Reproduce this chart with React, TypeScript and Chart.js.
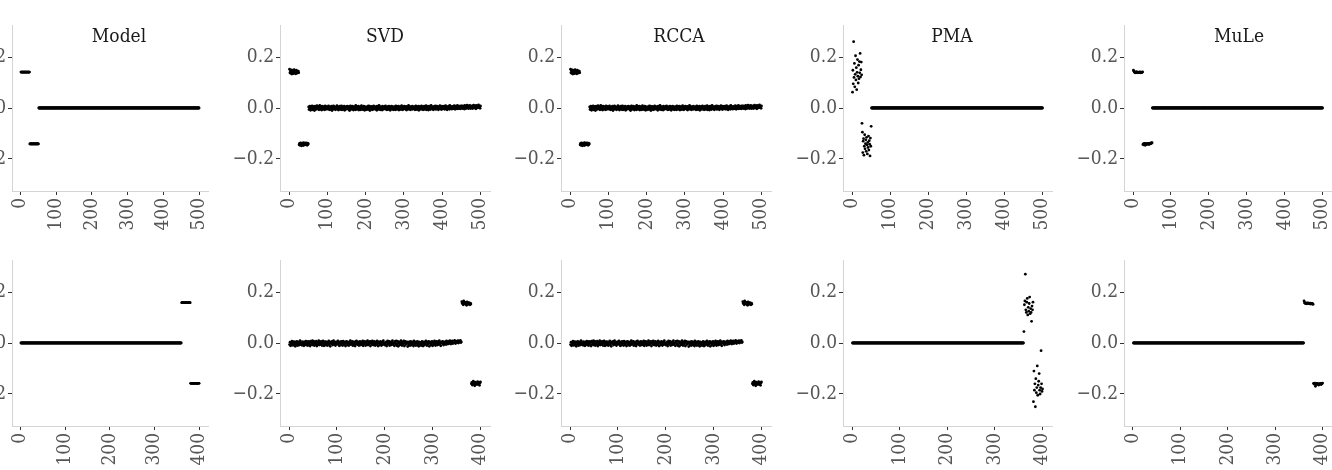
import React, { useEffect, useRef } from "react";
import { Chart, registerables } from "chart.js";

Chart.register(...registerables);

// ---------- DATA ----------
const panelTitles = ["Model", "SVD", "RCCA", "PMA", "MuLe"];
const xTicksTop = [0, 100, 200, 300, 400, 500];
const xTicksBottom = [0, 100, 200, 300, 400];
const yTicks = [-0.2, 0, 0.2];

// sparse loadings that sit exactly on zero (solid black runs in the picture)
const zeroRunTop = new Array(450).fill(0);
const zeroRunBottom = new Array(360).fill(0);

// Model, top row (indices 1..50 non-zero)
const modelTopHigh = [0.141, 0.141, 0.141, 0.141, 0.141, 0.141, 0.141, 0.141, 0.141, 0.141, 0.141, 0.141, 0.141, 0.141, 0.141, 0.141, 0.141, 0.141, 0.141, 0.141, 0.141, 0.141, 0.141, 0.141, 0.141];
const modelTopLow = [-0.141, -0.141, -0.141, -0.141, -0.141, -0.141, -0.141, -0.141, -0.141, -0.141, -0.141, -0.141, -0.141, -0.141, -0.141, -0.141, -0.141, -0.141, -0.141, -0.141, -0.141, -0.141, -0.141, -0.141, -0.141];
// Model, bottom row (indices 361..400 non-zero)
const modelBottomHigh = [0.158, 0.158, 0.158, 0.158, 0.158, 0.158, 0.158, 0.158, 0.158, 0.158, 0.158, 0.158, 0.158, 0.158, 0.158, 0.158, 0.158, 0.158, 0.158, 0.158];
const modelBottomLow = [-0.158, -0.158, -0.158, -0.158, -0.158, -0.158, -0.158, -0.158, -0.158, -0.158, -0.158, -0.158, -0.158, -0.158, -0.158, -0.158, -0.158, -0.158, -0.158, -0.158];

// SVD / RCCA (identical in the picture), top row, in thousandths
const svdTopHigh = [152, 138, 145, 136, 141, 149, 133, 144, 139, 147, 135, 142, 150, 137, 143, 146, 134, 140, 148, 136, 144, 139, 142, 145, 138];
const svdTopLow = [-144, -139, -146, -141, -137, -143, -148, -140, -145, -138, -142, -147, -136, -143, -140, -145, -139, -142, -137, -144, -141, -146, -138, -143, -140];
const svdTopNoise = [
  4, -6, 2, 7, -2, -9, 5, 0, -4, 8, 2, -7, 3, -2, 6, -10, 1, 7, -4, 2, -5, 3, 9, -2, 0,
  -4, 5, -7, 2, 10, -2, -5, 3, 0, -8, 7, 1, -3, 5, -2, 4, -7, 0, 8, -5, 2, -4, 6, -1, 3,
  0, -5, 8, 3, -2, -7, 2, 5, -4, 1, 7, -10, 4, 2, -5, 8, -2, 0, 5, -3, -7, 3, 2, -2, 9,
  -5, 2, 4, -8, 0, 5, -3, 7, -2, -6, 3, 8, -7, 2, 0, -4, 5, -1, 7, -9, 3, 1, -5, 2, 6,
  -2, 7, -3, 0, 5, -7, 2, -10, 4, 8, -2, 1, -5, 3, 7, -4, 2, -8, 5, 0, -2, 4, -7, 10, -3,
  2, -5, 6, 0, -4, 7, -8, 3, 1, -2, 5, -7, 0, 9, -3, 2, -6, 4, -1, 7, 0, -9, 5, -3, 2,
  -7, 3, 0, 5, -2, -6, 8, 2, -4, 7, -10, 1, 3, -2, 6, 2, -7, 4, 0, -5, 8, -2, 3, -4, 1,
  5, -3, 2, -9, 7, 0, -2, 4, -5, 10, -3, 2, -7, 5, 0, -2, 3, -8, 7, 2, -5, 0, 4, -2, 6,
  -4, 8, -2, 1, -7, 3, 5, -6, 2, -1, 7, -3, 0, -9, 5, 2, -4, 7, -2, 0, 3, -7, 2, 5, -5,
  0, 4, -7, 8, -2, 2, -5, 6, 0, -4, 7, -8, 3, -2, 2, 5, -6, 1, 9, -3, 2, -7, 4, 0, -2,
  7, -2, 3, -5, 0, 6, -8, 2, 4, -3, 1, 10, -5, 2, -2, 4, -7, 5, 0, -4, 2, 7, -5, 3, -1,
  -2, 5, 0, -7, 3, 8, -4, 2, -6, 1, 5, -2, 7, -9, 3, 0, -4, 6, 2, -5, 8, -2, 1, 4, -7,
  3, -2, 7, -5, 2, 0, -4, 9, -7, 3, 2, -1, 6, -8, 0, 7, -3, 2, -6, 4, 10, -2, 1, -4, 5,
  2, -7, 4, 5, -2, 1, 8, -5, 3, -4, 7, 2, -2, 5, -7, 4, 0, -2, 9, -3, 5, 2, -6, 7, 1,
  -3, 6, 2, -2, 7, -5, 4, 0, 9, -4, 2, 5, -7, 3, 2, -2, 7, 1, -5, 10, 3, -2, 5, 2, -4,
  5, 0, -3, 7, 2, -2, 9, 3, -5, 6, 1, 7, -2, 4, 10, -3, 2, 5, 0, -2, 7, 4, -3, 8, 2,
  4, 8, -2, 5, 0, 7, 2, -4, 10, 3, 6, -2, 7, 2, 11, 0, 4, 8, -2, 5, 3, 10, 2, -2, 7,
  5, 2, 8, -2, 7, 3, 11, 0, 5, 8, 2, 7, -3, 10, 4, 5, 1, 8, 3, 12, 2, 7, 5, -1, 8,
];

// SVD / RCCA bottom row, in thousandths
const svdBottomNoise = [
  -6, 3, -11, 2, -4, 7, -9, 0, 5, -8, -2, 4, -13, 2, -6, 6, -1, -10, 4, -4, -8, 2, 9, -6, 0,
  -2, -9, 5, -4, 2, -11, 4, -1, -6, 7, -8, 2, -4, -10, 6, 0, -3, 4, -12, 7, -6, 2, -4, 9, -8,
  0, 6, -10, -2, 4, -6, 7, -12, 2, -1, -4, 9, -8, 4, -2, -6, 6, 0, -10, 2, 8, -4, -11, 4, -2,
  5, -8, 0, 4, -10, 2, -4, 8, -6, -1, -13, 4, 2, -3, 6, -8, 0, 9, -4, -6, 2, -10, 4, -1, -2,
  -4, 8, -6, 2, -11, 4, 0, -8, 6, -2, 2, -10, 7, -4, 0, -6, 4, -12, 2, 6, -2, -8, 4, -1, -10,
  2, -4, 9, -6, 0, -2, 6, -10, 4, -8, 2, -1, -12, 6, -4, 8, -2, -6, 4, 0, -10, 2, 6, -4, -8,
  4, -6, 0, 8, -11, 2, -4, 6, -2, -10, 4, 0, -6, 9, -8, 2, -4, -2, 6, -12, 4, -1, -6, 8, -2,
  -8, 2, 6, -4, -10, 0, 4, -6, 8, -2, -12, 4, 2, -8, 0, 6, -4, -10, 2, 4, -6, 9, -2, 0, -8,
  0, -6, 4, -12, 2, 8, -4, -2, 6, -10, 0, 4, -8, 2, -4, 9, -6, 0, -2, -11, 6, 2, -4, 8, -10,
  -4, 6, -13, 0, 4, -8, 2, -6, 9, -2, -10, 4, 0, -4, 8, -12, 2, 6, -6, 0, -2, 4, -14, 2, -8,
  4, -2, -10, 6, 0, -8, 4, -4, 2, -12, 8, -6, 0, 4, -10, 2, -2, 6, -8, 0, -13, 4, 2, -6, -4,
  -10, 2, 6, -4, -12, 0, 4, -8, 2, -2, 8, -6, -10, 4, 0, -4, 6, -13, 2, -2, 4, -8, 0, 6, -11,
  2, -6, 0, 8, -4, -10, 4, -2, 6, -8, 0, 2, -6, 9, -4, 0, -11, 4, 2, -2, 6, -4, -8, 4, 0,
  -2, 4, -6, 8, 0, 2, -4, 6, -2, 4, 9, 0, -4, 6, 2, 8, -2, 4, 0, 6, 10, 2, -2, 7, 4,
  5, 2, 9, 0, 7, 4, 6, 10, 2, 4,
];
const svdBottomHigh = [162, 155, 158, 150, 165, 157, 160, 153, 156, 159, 148, 161, 154, 157, 152, 158, 155, 150, 156, 153];
const svdBottomLow = [-160, -155, -165, -158, -150, -162, -157, -168, -154, -159, -161, -156, -163, -152, -158, -160, -155, -166, -157, -153];

// PMA, in thousandths
const pmaTopHigh = [62, 148, 95, 260, 120, 175, 83, 132, 205, 110, 158, 72, 140, 190, 125, 98, 168, 115, 182, 138, 214, 122, 150, 180, 130];
const pmaTopLow = [-60, -95, -175, -130, -120, -185, -150, -105, -160, -140, -125, -170, -115, -145, -180, -135, -155, -110, -165, -128, -142, -188, -118, -150, -72];
const pmaBottomHigh = [45, 150, 165, 270, 130, 120, 160, 175, 110, 140, 125, 155, 180, 115, 135, 120, 85, 145, 130, 160];
const pmaBottomLow = [-230, -110, -185, -160, -250, -140, -195, -175, -90, -205, -165, -150, -120, -185, -200, -175, -30, -160, -190, -180];

// MuLe, in thousandths
const muleTopHigh = [148, 145, 142, 140, 139, 141, 138, 140, 143, 139, 140, 141, 138, 140, 139, 141, 140, 142, 139, 138, 140, 141, 139, 140, 142];
const muleTopLow = [-143, -141, -145, -140, -142, -139, -146, -141, -140, -143, -141, -142, -140, -139, -141, -143, -140, -142, -141, -138, -140, -139, -137, -138, -136];
const muleBottomHigh = [165, 158, 156, 155, 157, 154, 156, 155, 157, 155, 156, 154, 155, 156, 153, 155, 154, 155, 153, 152];
const muleBottomLow = [-158, -160, -162, -157, -170, -161, -159, -163, -158, -160, -162, -165, -159, -161, -160, -158, -163, -160, -159, -157];

// ---------- series assembly ----------
const milli = (a: number[]) => a.map((v) => v / 1000);

const topSeries: number[][] = [
  [...modelTopHigh, ...modelTopLow, ...zeroRunTop],
  milli([...svdTopHigh, ...svdTopLow, ...svdTopNoise]),
  milli([...svdTopHigh, ...svdTopLow, ...svdTopNoise]),
  [...milli(pmaTopHigh), ...milli(pmaTopLow), ...zeroRunTop],
  [...milli(muleTopHigh), ...milli(muleTopLow), ...zeroRunTop],
];
const bottomSeries: number[][] = [
  [...zeroRunBottom, ...modelBottomHigh, ...modelBottomLow],
  milli([...svdBottomNoise, ...svdBottomHigh, ...svdBottomLow]),
  milli([...svdBottomNoise, ...svdBottomHigh, ...svdBottomLow]),
  [...zeroRunBottom, ...milli(pmaBottomHigh), ...milli(pmaBottomLow)],
  [...zeroRunBottom, ...milli(muleBottomHigh), ...milli(muleBottomLow)],
];

// ---------- layout ----------
const COL_LEFT = [12, 280, 561, 843, 1124];
const COL_WIDTH = [196, 210, 210, 209, 208];
const TITLE_X = [119, 385, 679, 952, 1239];
const ROW_TOP = [25, 260];
const PLOT_H = 166;
const TITLE_Y = 37;
const Y_AXIS_W = 50;
const X_AXIS_H = 46;
const RIGHT_PAD = 12;
const FONT = "'DejaVu Serif Condensed', 'DejaVu Serif', serif";
const Y_LIM = 0.3255;

type PanelProps = { row: number; col: number };

function Panel({ row, col }: PanelProps) {
  const ref = useRef<HTMLCanvasElement | null>(null);
  const left = COL_LEFT[col] - Y_AXIS_W;
  const top = ROW_TOP[row];
  const width = Y_AXIS_W + COL_WIDTH[col] + RIGHT_PAD;
  const height = PLOT_H + X_AXIS_H;

  useEffect(() => {
    if (!ref.current) return;
    const values = row === 0 ? topSeries[col] : bottomSeries[col];
    const n = row === 0 ? 500 : 400;
    const xt = row === 0 ? xTicksTop : xTicksBottom;
    const pad = (n - 1) * 0.05;
    const pts = values.map((v, i) => ({ x: i + 1, y: v }));
    const title = row === 0 ? panelTitles[col] : "";

    const titlePlugin = {
      id: "panelTitle",
      afterDraw(chart: any) {
        if (!title) return;
        const ctx = chart.ctx;
        ctx.save();
        ctx.font = `19px ${FONT}`;
        ctx.fillStyle = "#1a1a1a";
        ctx.textAlign = "center";
        ctx.textBaseline = "middle";
        ctx.fillText(title, TITLE_X[col] - left, TITLE_Y - top);
        ctx.restore();
      },
    };

    const chart = new Chart(ref.current, {
      type: "scatter",
      data: {
        datasets: [
          {
            data: pts,
            pointRadius: 1.4,
            pointHoverRadius: 0,
            backgroundColor: "#000000",
            borderWidth: 0,
            pointBorderWidth: 0,
          } as any,
        ],
      },
      options: {
        responsive: false,
        animation: false,
        events: [],
        layout: { padding: { left: 0, right: RIGHT_PAD, top: 0, bottom: 0 }, autoPadding: false } as any,
        plugins: { legend: { display: false }, tooltip: { enabled: false } },
        scales: {
          x: {
            type: "linear",
            min: 1 - pad,
            max: n + pad,
            afterBuildTicks: (s: any) => {
              s.ticks = xt.map((v) => ({ value: v }));
            },
            afterFit: (s: any) => {
              s.height = X_AXIS_H;
              s.paddingLeft = 0;
              s.paddingRight = 0;
              s.paddingTop = 0;
              s.paddingBottom = 0;
            },
            ticks: {
              autoSkip: false,
              minRotation: 90,
              maxRotation: 90,
              padding: 3,
              color: "#555555",
              font: { family: FONT, size: 19 },
              callback: (v: any) => String(v),
            },
            grid: { display: true, drawOnChartArea: false, drawTicks: true, tickLength: 4, color: "#333333", lineWidth: 1 },
            border: { display: true, color: "#d4d4d4", width: 1 },
          },
          y: {
            type: "linear",
            min: -Y_LIM,
            max: Y_LIM,
            afterBuildTicks: (s: any) => {
              s.ticks = yTicks.map((v) => ({ value: v }));
            },
            afterFit: (s: any) => {
              s.width = Y_AXIS_W;
              s.paddingLeft = 0;
              s.paddingRight = 0;
              s.paddingTop = 0;
              s.paddingBottom = 0;
            },
            ticks: {
              padding: 2,
              color: "#555555",
              font: { family: FONT, size: 19 },
              callback: (v: any) => {
                const num = Number(v);
                if (Math.abs(num) < 1e-9) return "0.0";
                return (num < 0 ? "\u2212" : "") + Math.abs(num).toFixed(1);
              },
            },
            grid: { display: true, drawOnChartArea: false, drawTicks: true, tickLength: 4, color: "#333333", lineWidth: 1 },
            border: { display: true, color: "#d4d4d4", width: 1 },
          },
        },
      },
      plugins: [titlePlugin],
    });
    return () => chart.destroy();
  }, [row, col]);

  return (
    <canvas
      ref={ref}
      width={width}
      height={height}
      style={{ position: "absolute", left, top, width, height }}
    />
  );
}

export default function App() {
  const cells: React.ReactNode[] = [];
  for (let r = 0; r < 2; r++) {
    for (let c = 0; c < 5; c++) {
      cells.push(<Panel key={`${r}-${c}`} row={r} col={c} />);
    }
  }
  return (
    <div
      style={{
        position: "absolute",
        left: 0,
        top: 0,
        width: 1332,
        height: 470,
        overflow: "hidden",
        background: "#ffffff",
      }}
    >
      {cells}
    </div>
  );
}
